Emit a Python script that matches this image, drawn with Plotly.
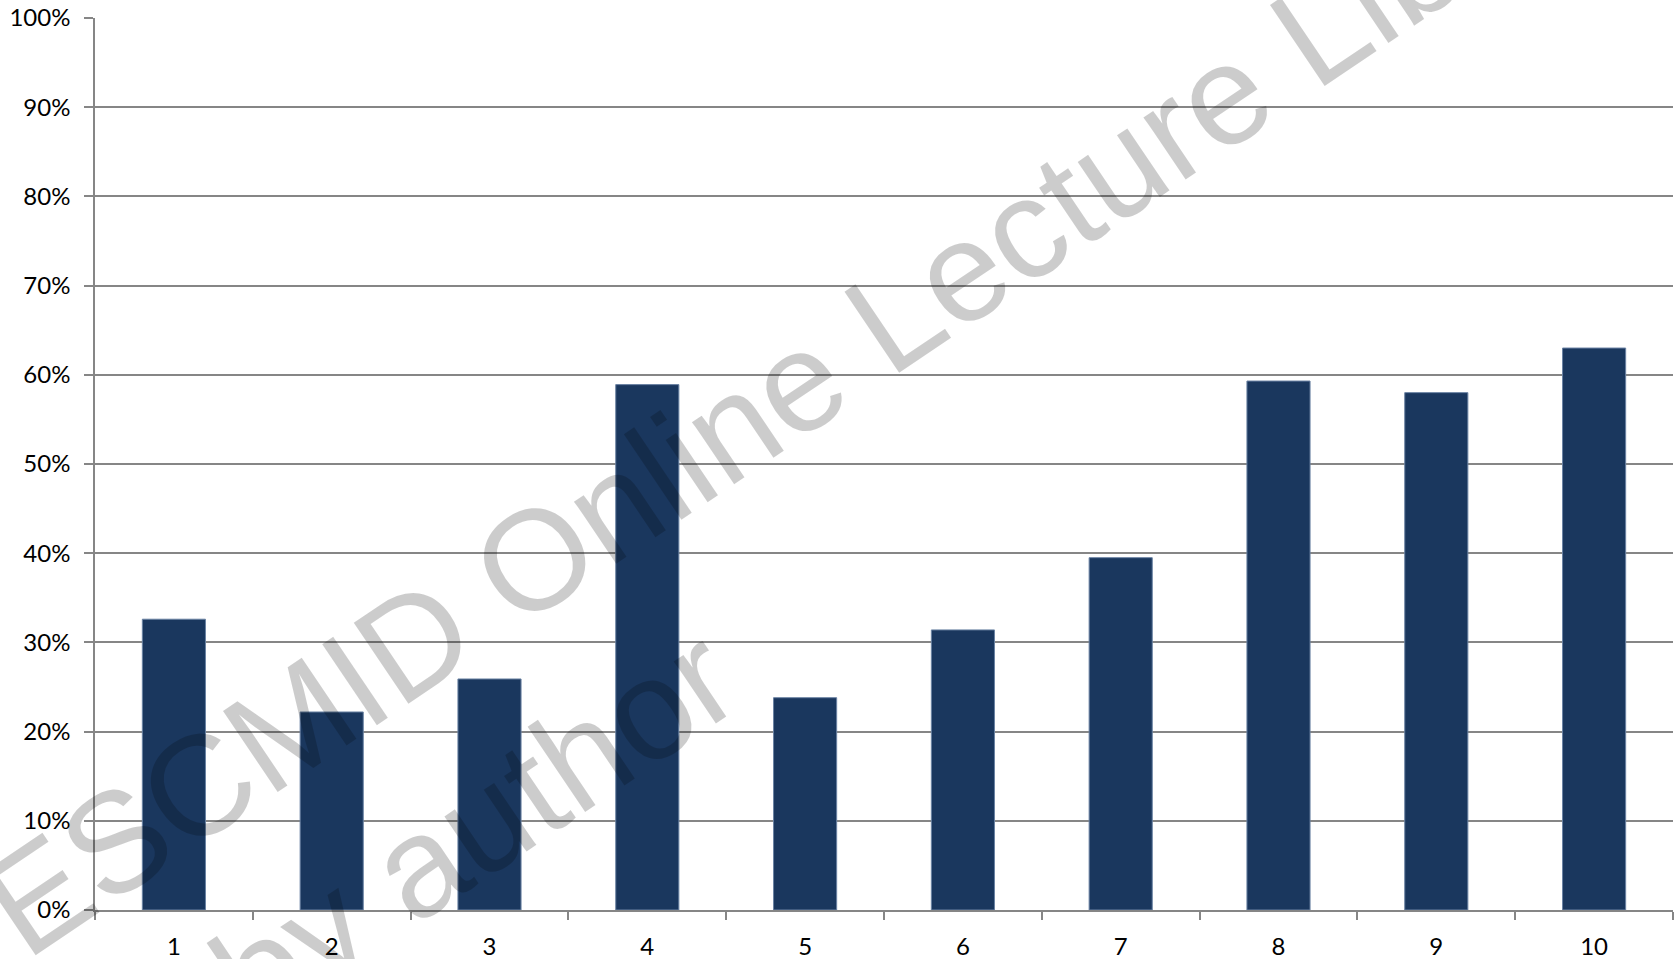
import plotly.graph_objects as go

# Share of cases per group (fraction of 1)
groups = ["1", "2", "3", "4", "5", "6", "7", "8", "9", "10"]
shares = [0.326, 0.222, 0.259, 0.589, 0.238, 0.314, 0.395, 0.593, 0.580, 0.630]

y_ticks = [0.0, 0.1, 0.2, 0.3, 0.4, 0.5, 0.6, 0.7, 0.8, 0.9, 1.0]
y_tick_text = ["0%", "10%", "20%", "30%", "40%", "50%", "60%", "70%", "80%", "90%", "100%"]

watermark_line1 = "ESCMID Online Lecture Library"
watermark_line2 = "© by author"

BAR = "#1a375e"
GRID = "#868686"
LABEL_FONT = dict(family="Lato, 'Open Sans', sans-serif", size=24, color="#000000")

fig = go.Figure(
    go.Bar(
        x=groups,
        y=shares,
        width=0.4,
        marker=dict(color=BAR, line=dict(color="#6a82a3", width=1)),
        hoverinfo="x+y",
    )
)

wm_font = dict(family="'Liberation Sans', Arial, sans-serif", size=142,
               color="rgba(0,0,0,0.2)")
for txt, xp, yp in [(watermark_line1, 0.4613, 0.612), (watermark_line2, 0.2022, 0.048)]:
    fig.add_annotation(
        text=txt, xref="paper", yref="paper", x=xp, y=yp,
        xanchor="center", yanchor="middle", showarrow=False,
        textangle=-34, font=wm_font,
    )

fig.update_layout(
    width=1680,
    height=959,
    margin=dict(l=95, r=7, t=18, b=49),
    paper_bgcolor="#ffffff",
    plot_bgcolor="#ffffff",
    showlegend=False,
    bargap=0.6,
    xaxis=dict(
        type="category",
        automargin=False,
        showgrid=False,
        showline=True,
        linecolor=GRID,
        linewidth=1.5,
        ticks="outside",
        tickson="boundaries",
        ticklen=8,
        tickwidth=1.5,
        tickcolor=GRID,
        tickfont=LABEL_FONT,
        ticklabelstandoff=14,
        zeroline=False,
    ),
    yaxis=dict(
        range=[0, 1],
        automargin=False,
        tickvals=y_ticks,
        ticktext=y_tick_text,
        showgrid=True,
        gridcolor=GRID,
        gridwidth=1.5,
        showline=True,
        linecolor=GRID,
        linewidth=1.5,
        ticks="outside",
        ticklen=9,
        tickwidth=1.5,
        tickcolor=GRID,
        tickfont=LABEL_FONT,
        ticklabelstandoff=9,
        zeroline=False,
    ),
)

fig.write_html("out.html")
